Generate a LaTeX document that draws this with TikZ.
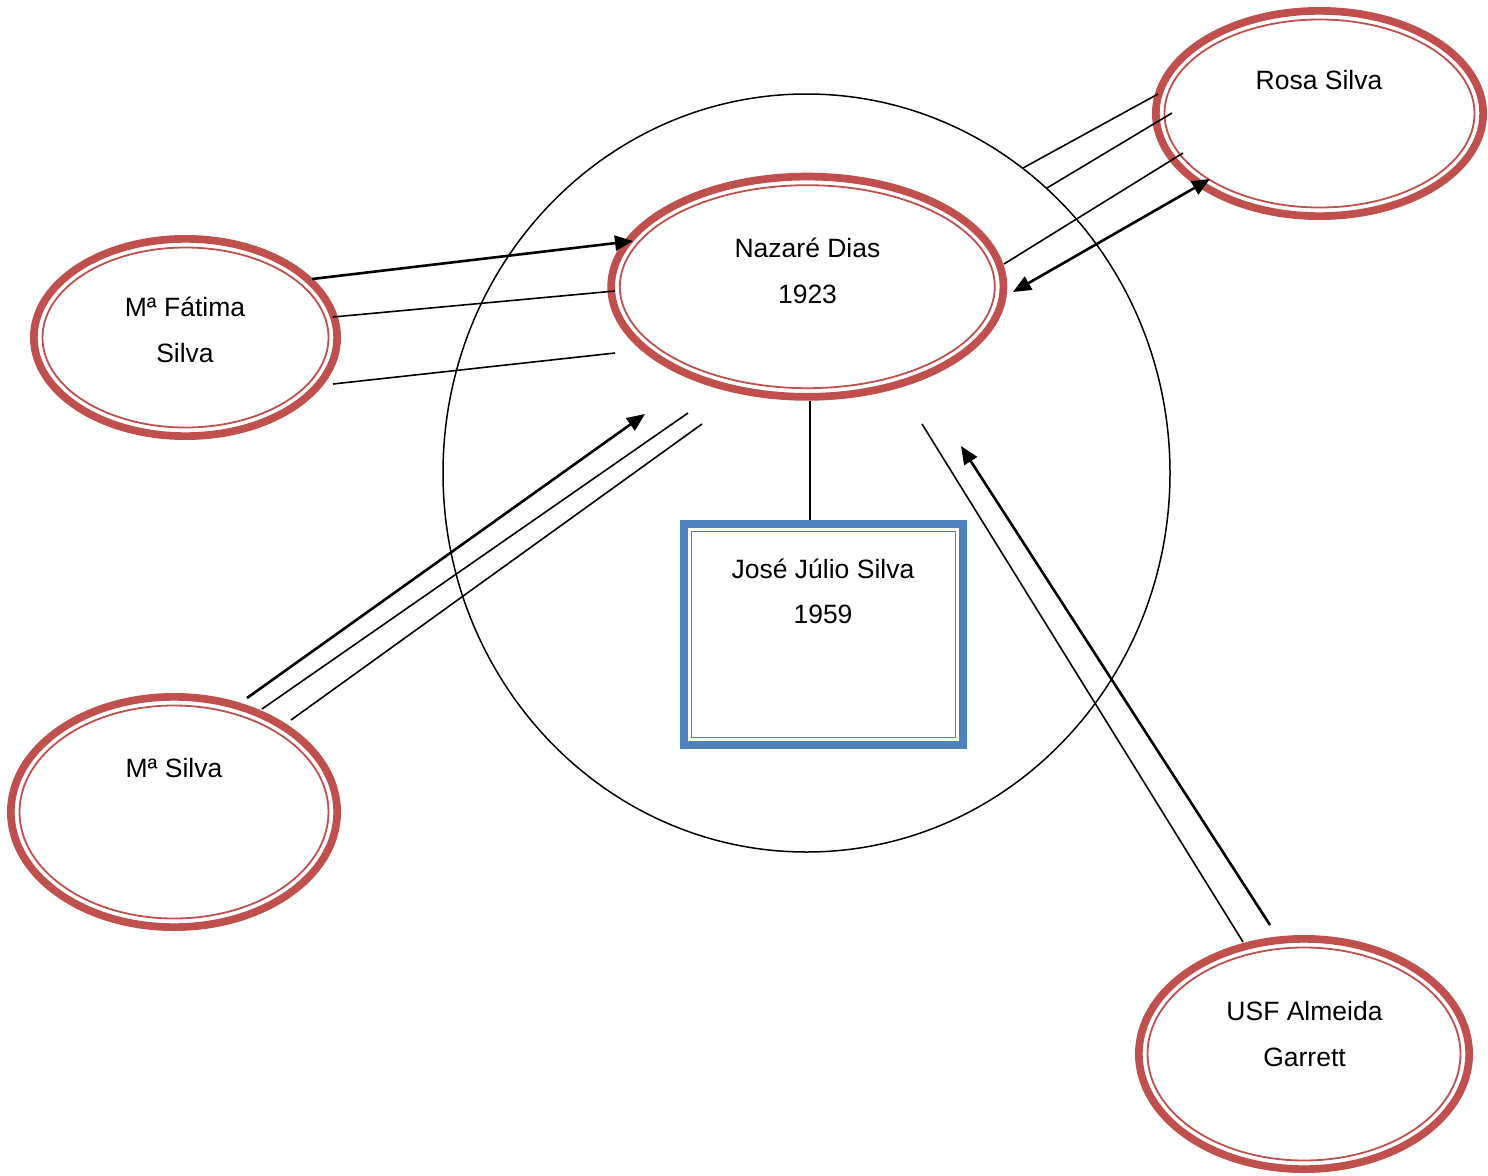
\documentclass[tikz,border=0pt]{standalone}
\usepackage{fontspec}
\setmainfont{Liberation Sans}
\usetikzlibrary{arrows.meta, shapes.geometric}
\definecolor{ringred}{HTML}{C0504D}
\definecolor{boxblue}{HTML}{4F81BD}
\begin{document}
\begin{tikzpicture}[x=1pt, y=-1pt,
  person/.style={ellipse, draw=ringred, line width=7.7pt, inner sep=0pt, outer sep=0pt},
  ringin/.style={draw=ringred, line width=1.8pt},
  lbl/.style={font=\fontsize{26.5}{31}\selectfont, inner sep=0pt, anchor=base},
  link/.style={line width=1.6pt},
  flow/.style={line width=2.6pt, -{Triangle[length=18pt,width=15pt]}},
  flowboth/.style={line width=2.6pt, {Triangle[length=18pt,width=15pt]}-{Triangle[length=18pt,width=15pt]}},
]
\fill[white] (0,0) rectangle (1488,1175);
\useasboundingbox (0,0) rectangle (1488,1175);

% household boundary
\node[ellipse, draw, line width=1.5pt, minimum width=727pt, minimum height=758pt, inner sep=0pt] (home) at (806.5,473) {};

% people and services
\node[person, minimum width=392.3pt, minimum height=220.3pt] (naz) at (807.3,286.7) {};
\draw[ringin] (naz.center) ellipse [x radius=187.5, y radius=101.5];
\node[person, minimum width=327.3pt, minimum height=205.3pt] (rosa) at (1319.5,113.5) {};
\draw[ringin] (rosa.center) ellipse [x radius=155, y radius=94];
\node[person, minimum width=303.3pt, minimum height=197.3pt] (fat) at (185.5,337.5) {};
\draw[ringin] (fat.center) ellipse [x radius=143, y radius=90];
\node[person, minimum width=326.3pt, minimum height=230.3pt] (msil) at (174,812) {};
\draw[ringin] (msil.center) ellipse [x radius=154.5, y radius=106.5];
\node[person, minimum width=330.3pt, minimum height=230.3pt] (usf) at (1304,1054) {};
\draw[ringin] (usf.center) ellipse [x radius=156.5, y radius=106.5];

% index person
\node[draw=boxblue, line width=7.7pt, minimum width=279.3pt, minimum height=221.3pt, inner sep=0pt] (jose) at (823.5,634.5) {};
\node[draw=boxblue, line width=1.8pt, minimum width=264pt, minimum height=206pt, inner sep=0pt] (josein) at (jose.center) {};

% labels
\node[lbl] (naz1) at (807.5,257) {Nazaré Dias};
\node[lbl] (naz2) at (807.5,303) {1923};
\node[lbl] (rosa1) at (1319,89) {Rosa Silva};
\node[lbl] (fat1) at (185,316) {Mª Fátima};
\node[lbl] (fat2) at (185,362) {Silva};
\node[lbl] (msil1) at (174,777) {Mª Silva};
\node[lbl] (usf1) at (1304.5,1020) {USF Almeida};
\node[lbl] (usf2) at (1304.5,1066) {Garrett};
\node[lbl] (jose1) at (823,578) {José Júlio Silva};
\node[lbl] (jose2) at (823,623) {1959};

% connector ends
\coordinate (fa1) at (312,279);  \coordinate (na1) at (633,241);
\coordinate (fa2) at (333,317);  \coordinate (na2) at (615,291);
\coordinate (fa3) at (333,384);  \coordinate (na3) at (615,353);
\coordinate (nr1) at (1023,168); \coordinate (ro1) at (1158,94);
\coordinate (nr2) at (1047,188); \coordinate (ro2) at (1172,113);
\coordinate (nr3) at (1004,264); \coordinate (ro3) at (1183,153);
\coordinate (nr4) at (1013,292); \coordinate (ro4) at (1210,179);
\coordinate (ms1) at (247,698);  \coordinate (nm1) at (645,414);
\coordinate (ms2) at (262,709);  \coordinate (nm2) at (688,413);
\coordinate (ms3) at (291,720);  \coordinate (nm3) at (702,424);
\coordinate (nu1) at (922,424);  \coordinate (us1) at (1243,942);
\coordinate (us2) at (1270,925); \coordinate (nu2) at (961,446);
\coordinate (nj) at (810,401);

% Mª Fátima Silva -- Nazaré Dias
\draw[flow] (fa1) -- (na1);
\draw[link] (fa2) -- (na2);
\draw[link] (fa3) -- (na3);
% Rosa Silva -- Nazaré Dias
\draw[link] (nr1) -- (ro1);
\draw[link] (nr2) -- (ro2);
\draw[link] (nr3) -- (ro3);
\draw[flowboth] (nr4) -- (ro4);
% Mª Silva -- Nazaré Dias
\draw[flow] (ms1) -- (nm1);
\draw[link] (ms2) -- (nm2);
\draw[link] (ms3) -- (nm3);
% USF Almeida Garrett -- Nazaré Dias
\draw[link] (nu1) -- (us1);
\draw[flow] (us2) -- (nu2);
% Nazaré Dias -- José Júlio Silva
\draw[link] (nj) -- (nj |- jose.north);
\end{tikzpicture}
\end{document}
